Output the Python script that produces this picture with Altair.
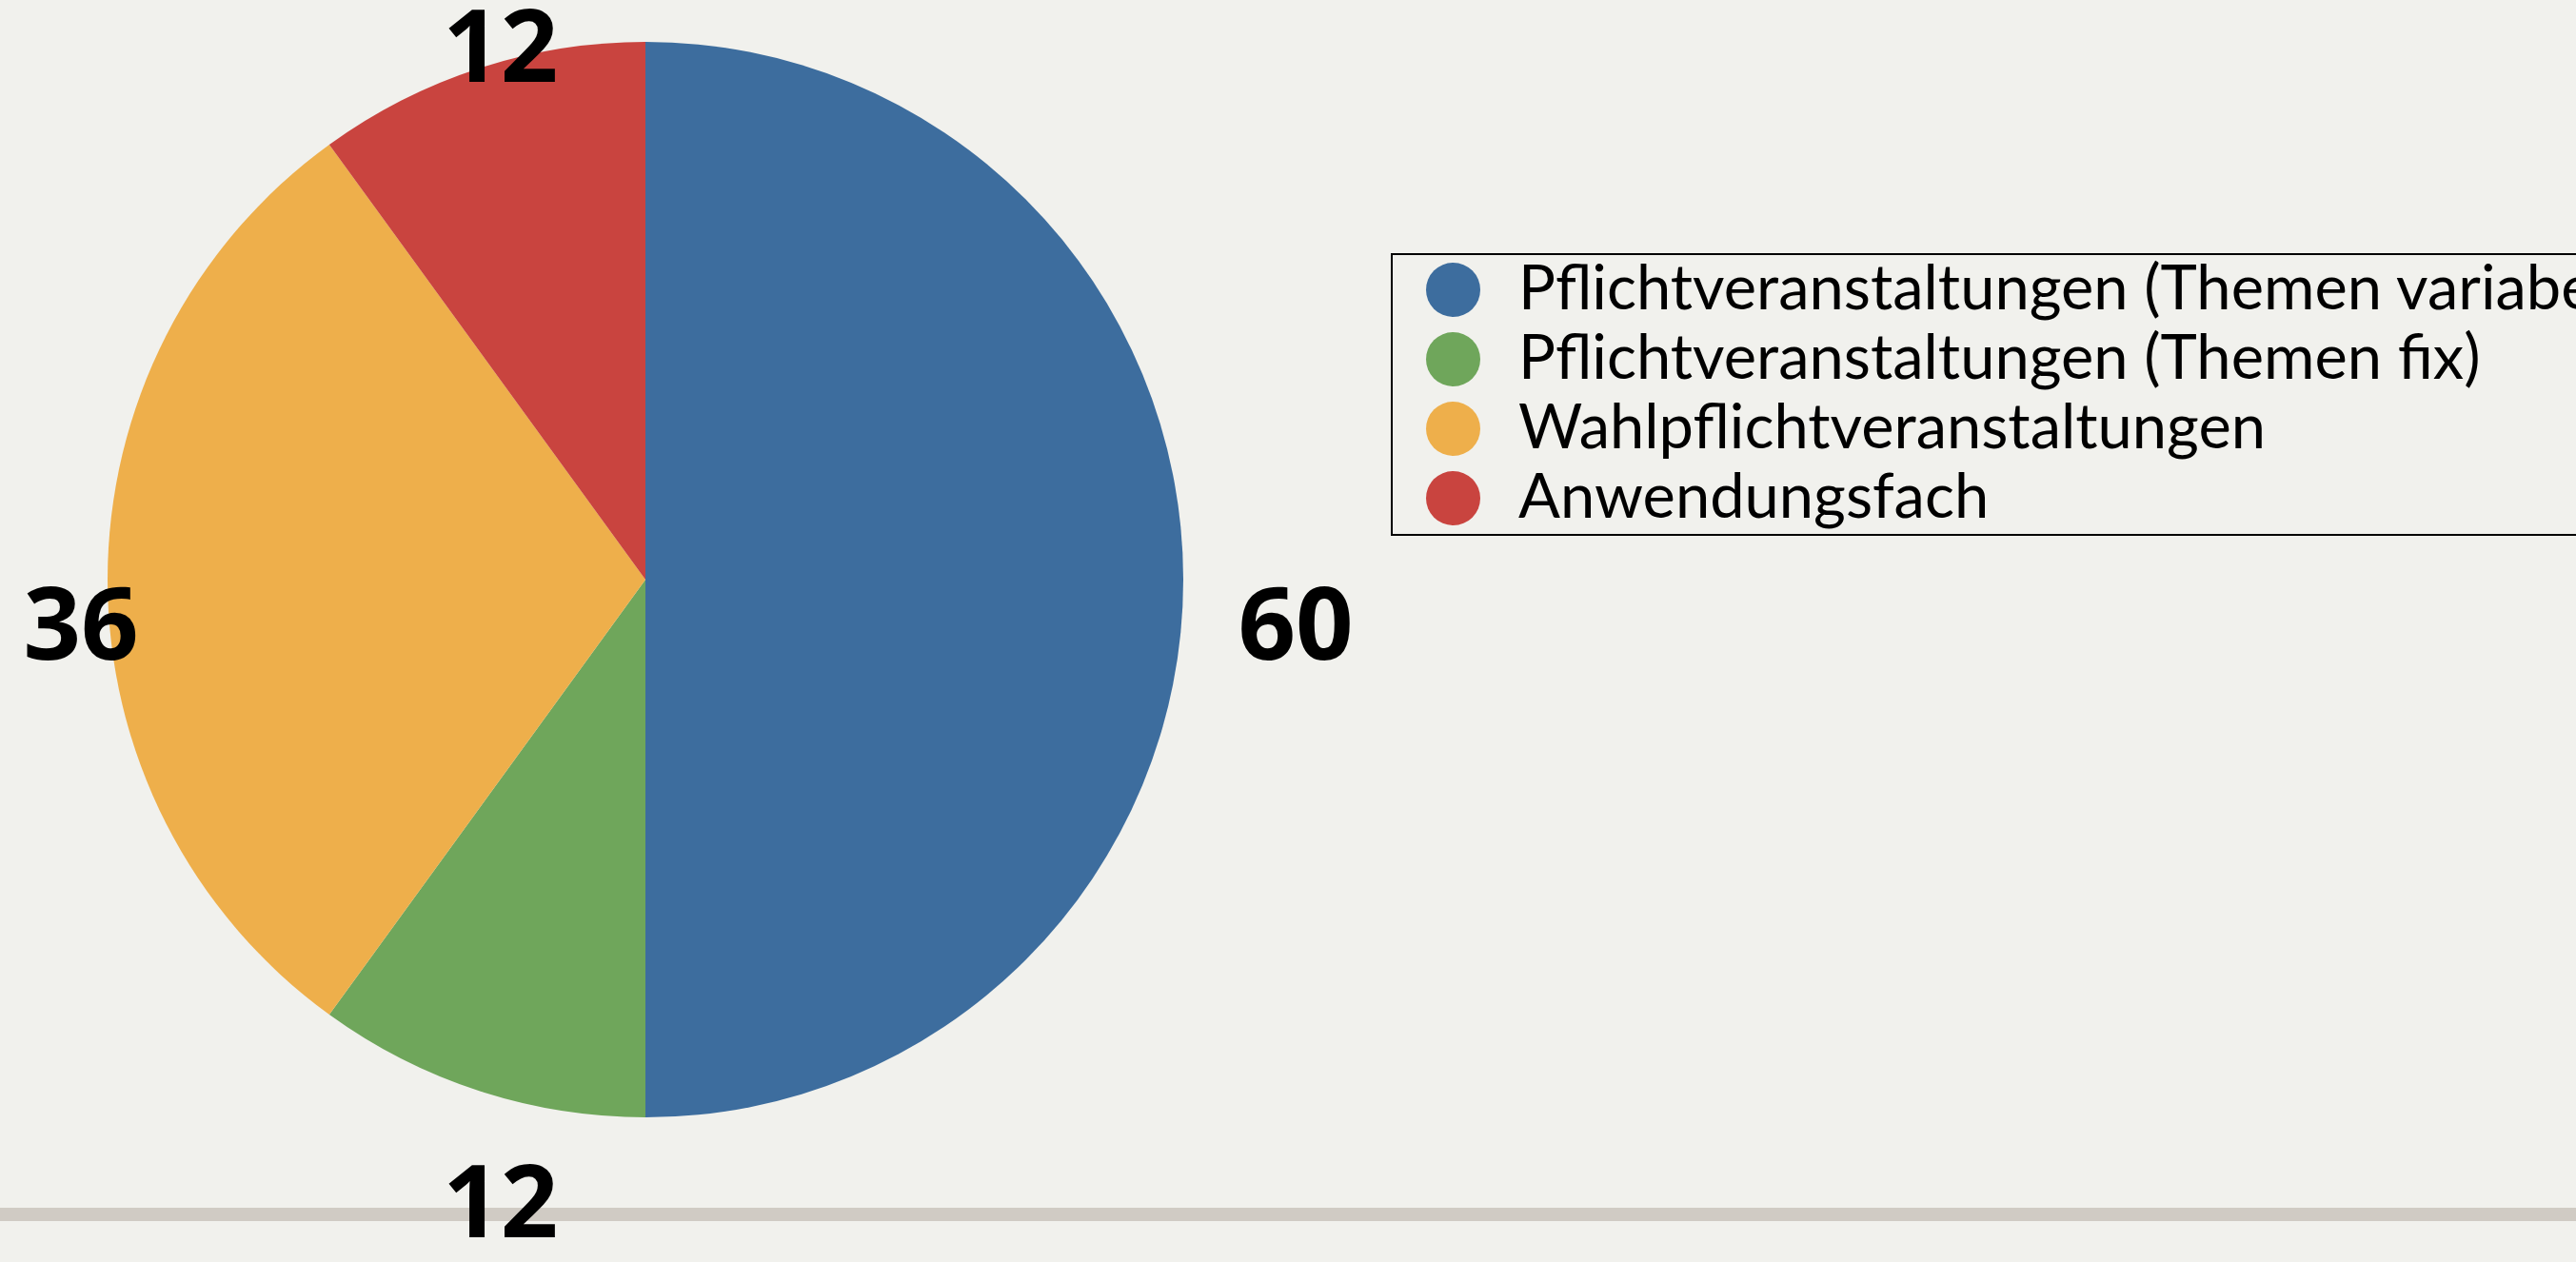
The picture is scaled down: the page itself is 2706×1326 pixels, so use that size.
import altair as alt
import pandas as pd

categories = [
    "Pflichtveranstaltungen (Themen variabel)",
    "Pflichtveranstaltungen (Themen fix)",
    "Wahlpflichtveranstaltungen",
    "Anwendungsfach",
]
values = [60, 12, 36, 12]
colors = ["#3d6d9e", "#6fa65b", "#eeaf4b", "#c9443f"]

df = pd.DataFrame({"cat": categories, "value": values, "idx": list(range(len(categories)))})

CX, CY = 678, 609

base = alt.Chart(df).encode(
    theta=alt.Theta("value:Q", stack=True),
    order=alt.Order("idx:Q"),
)

arcs = base.mark_arc(outerRadius=565).encode(
    x=alt.value(CX),
    y=alt.value(CY),
    color=alt.Color(
        "cat:N",
        scale=alt.Scale(domain=categories, range=colors),
        sort=categories,
        legend=alt.Legend(
            title=None,
            orient="none",
            legendX=1462,
            legendY=267,
            strokeColor="black",
            padding=5,
            symbolType="circle",
            symbolSize=3249,
            symbolOffset=27,
            symbolStrokeWidth=0,
            labelOffset=36,
            labelFont="Lato",
            labelFontSize=65,
            labelColor="black",
            rowPadding=7,
            labelLimit=0,
        ),
    ),
)

line = alt.Chart(df).mark_rule(color="#d0cbc4", strokeWidth=14).encode(
    x=alt.value(0), x2=alt.value(2706), y=alt.value(1276)
)

labels = base.mark_text(
    radius=638,
    dx=45,
    dy=52,
    font="Open Sans",
    fontWeight="bold",
    fontSize=106,
    align="center",
    baseline="middle",
).encode(
    x=alt.value(CX),
    y=alt.value(CY),
    text="value:Q",
    detail="cat:N",
    color=alt.value("black"),
)

chart = (
    alt.layer(arcs, line, labels)
    .properties(
        width=2706,
        height=1326,
        padding=0,
        autosize=alt.AutoSizeParams(type="none"),
        background="#f1f1ed",
    )
    .configure_view(stroke=None)
    .configure_legend(strokeWidth=2)
)

chart.save("out.html", embed_options={"renderer": "svg", "actions": False})
